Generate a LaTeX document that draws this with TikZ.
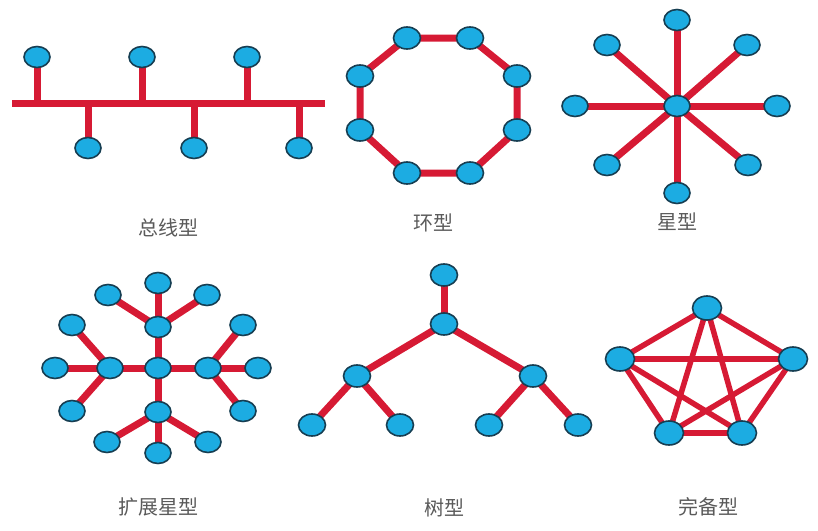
\documentclass[tikz,border=0pt]{standalone}
\usepackage{fontspec}
\newfontfamily\cjk{Noto Sans CJK SC}
\usetikzlibrary{shapes.geometric,backgrounds}
\definecolor{linkred}{RGB}{214,26,52}
\definecolor{nodefill}{RGB}{28,172,226}
\definecolor{nodeedge}{RGB}{22,62,82}
\definecolor{labelgray}{RGB}{90,90,90}
\tikzset{
  host/.style={ellipse,draw=nodeedge,line width=1.6pt,fill=nodefill,inner sep=0pt,minimum width=26pt,minimum height=21pt},
  bighost/.style={host,minimum width=29pt,minimum height=24pt},
  midhost/.style={host,minimum width=27pt,minimum height=22pt},
  link/.style={draw=linkred,line width=7pt},
  caption/.style={font=\cjk\fontsize{20}{22}\selectfont,text=labelgray,inner sep=0pt}
}
\begin{document}
\begin{tikzpicture}[x=1pt,y=-1pt]
\useasboundingbox (0,0) rectangle (818,530);
% ---------- Bus ----------
\coordinate (busL) at (12,103);
\coordinate (busR) at (325,103);
\node[host] (b1) at (37,57) {};
\node[host] (b2) at (142,57) {};
\node[host] (b3) at (247,57) {};
\node[host] (b4) at (88,148) {};
\node[host] (b5) at (194,148) {};
\node[host] (b6) at (299,148) {};
\node[caption] (capBus) at (168,228) {总线型};
% ---------- Ring ----------
\node[midhost] (r1) at (407,38) {};
\node[midhost] (r2) at (470,38) {};
\node[midhost] (r3) at (517,76) {};
\node[midhost] (r4) at (517,130) {};
\node[midhost] (r5) at (470,173) {};
\node[midhost] (r6) at (407,173) {};
\node[midhost] (r7) at (360,130) {};
\node[midhost] (r8) at (360,76) {};
\node[caption] (capRing) at (433,223) {环型};
% ---------- Star ----------
\node[host] (s0) at (677,106) {};
\node[host] (s1) at (677,20) {};
\node[host] (s2) at (747,45) {};
\node[host] (s3) at (777,106) {};
\node[host] (s4) at (748,165) {};
\node[host] (s5) at (677,193) {};
\node[host] (s6) at (607,165) {};
\node[host] (s7) at (575,106) {};
\node[host] (s8) at (607,45) {};
\node[caption] (capStar) at (677,222) {星型};
% ---------- Extended star ----------
\node[host] (e0) at (158,368) {};
\node[host] (eT) at (158,327) {};
\node[host] (eB) at (158,412) {};
\node[host] (eL) at (110,368) {};
\node[host] (eR) at (208,368) {};
\node[host] (eT1) at (108,295) {};
\node[host] (eT2) at (158,283) {};
\node[host] (eT3) at (207,295) {};
\node[host] (eL1) at (72,325) {};
\node[host] (eL2) at (55,368) {};
\node[host] (eL3) at (72,411) {};
\node[host] (eR1) at (243,325) {};
\node[host] (eR2) at (258,368) {};
\node[host] (eR3) at (243,411) {};
\node[host] (eB1) at (107,442) {};
\node[host] (eB2) at (158,453) {};
\node[host] (eB3) at (208,442) {};
\node[caption] (capExt) at (158,507) {扩展星型};
% ---------- Tree ----------
\node[midhost] (t0) at (444,275) {};
\node[midhost] (t1) at (444,324) {};
\node[midhost] (t2) at (357,376) {};
\node[midhost] (t3) at (533,376) {};
\node[midhost] (t4) at (312,425) {};
\node[midhost] (t5) at (400,425) {};
\node[midhost] (t6) at (489,425) {};
\node[midhost] (t7) at (578,425) {};
\node[caption] (capTree) at (444,508) {树型};
% ---------- Full mesh ----------
\node[bighost] (m1) at (707,308) {};
\node[bighost] (m2) at (793,359) {};
\node[bighost] (m3) at (742,433) {};
\node[bighost] (m4) at (669,433) {};
\node[bighost] (m5) at (620,359) {};
\node[caption] (capMesh) at (708,507) {完备型};
% ---------- Links ----------
\begin{scope}[on background layer]
  \draw[link] (busL) -- (busR);
  \foreach \n in {b1,b2,b3,b4,b5,b6} \draw[link] (\n.center) -- (\n.center |- busL);
  \draw[link] (r1.center) -- (r2.center) -- (r3.center) -- (r4.center) -- (r5.center) -- (r6.center) -- (r7.center) -- (r8.center) -- cycle;
  \foreach \n in {s1,s2,s3,s4,s5,s6,s7,s8} \draw[link] (s0.center) -- (\n.center);
  \foreach \n in {eT,eB,eL,eR} \draw[link] (e0.center) -- (\n.center);
  \foreach \n in {eT1,eT2,eT3} \draw[link] (eT.center) -- (\n.center);
  \foreach \n in {eL1,eL2,eL3} \draw[link] (eL.center) -- (\n.center);
  \foreach \n in {eR1,eR2,eR3} \draw[link] (eR.center) -- (\n.center);
  \foreach \n in {eB1,eB2,eB3} \draw[link] (eB.center) -- (\n.center);
  \draw[link] (t0.center) -- (t1.center);
  \draw[link] (t1.center) -- (t2.center);
  \draw[link] (t1.center) -- (t3.center);
  \draw[link] (t2.center) -- (t4.center);
  \draw[link] (t2.center) -- (t5.center);
  \draw[link] (t3.center) -- (t6.center);
  \draw[link] (t3.center) -- (t7.center);
  \foreach \a/\b in {m1/m2,m1/m3,m1/m4,m1/m5,m2/m3,m2/m4,m2/m5,m3/m4,m3/m5,m4/m5}
    \draw[link,line width=5.5pt] (\a.center) -- (\b.center);
\end{scope}
\end{tikzpicture}
\end{document}
